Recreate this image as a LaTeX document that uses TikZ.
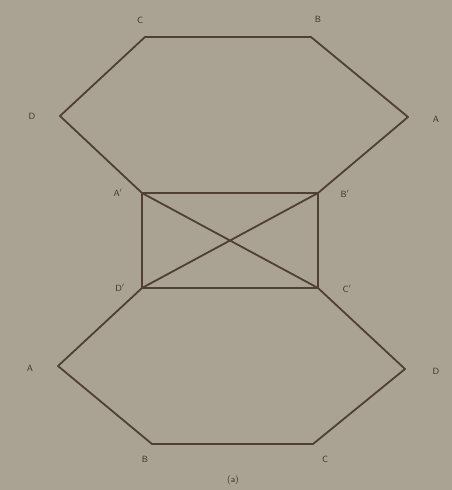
\documentclass[tikz,border=0pt]{standalone}
\begin{document}
\begin{tikzpicture}[x=1pt,y=-1pt,
  edge/.style={draw={rgb,255:red,78;green,64;blue,50},line width=1.8pt,line cap=round,line join=round},
  lbl/.style={text={rgb,255:red,60;green,52;blue,45},font=\sffamily\small,inner sep=1pt},
  pt/.style={inner sep=0pt,minimum size=0pt}]
\fill[fill={rgb,255:red,170;green,162;blue,147}] (0,0) rectangle (452,490);
\useasboundingbox (0,0) rectangle (452,490);
% vertices
\coordinate (Ct) at (145,37);
\coordinate (Bt) at (311,37);
\coordinate (Dl) at (60,116);
\coordinate (Ar) at (408,117);
\coordinate (Ap) at (142,193);
\coordinate (Bp) at (318,193);
\coordinate (Dp) at (142,288);
\coordinate (Cp) at (318,288);
\coordinate (Ab) at (58,366);
\coordinate (Db) at (405,369);
\coordinate (Bb) at (152,444);
\coordinate (Cb) at (313,444);
% top hexagon
\draw[edge] (Cp) -- (Ap) -- (Dl) -- (Ct) -- (Bt) -- (Ar) -- (Bp) -- (Dp);
% rectangle
\draw[edge] (Ap) -- (Bp) -- (Cp) -- (Dp) -- cycle;
% bottom hexagon
\draw[edge] (Dp) -- (Ab) -- (Bb) -- (Cb) -- (Db) -- (Cp);
% labels
\node[lbl] (lCt) at (140,20) {C};
\node[lbl] (lBt) at (318,19) {B};
\node[lbl] (lDl) at (32,116) {D};
\node[lbl] (lAr) at (436,119) {A};
\node[lbl] (lAp) at (118,193) {A$'$};
\node[lbl] (lBp) at (345,194) {B$'$};
\node[lbl] (lDp) at (120,288) {D$'$};
\node[lbl] (lCp) at (347,289) {C$'$};
\node[lbl] (lAb) at (30,368) {A};
\node[lbl] (lDb) at (436,371) {D};
\node[lbl] (lBb) at (145,459) {B};
\node[lbl] (lCb) at (325,459) {C};
\node[lbl] (cap) at (233,480) {(a)};
\end{tikzpicture}
\end{document}
